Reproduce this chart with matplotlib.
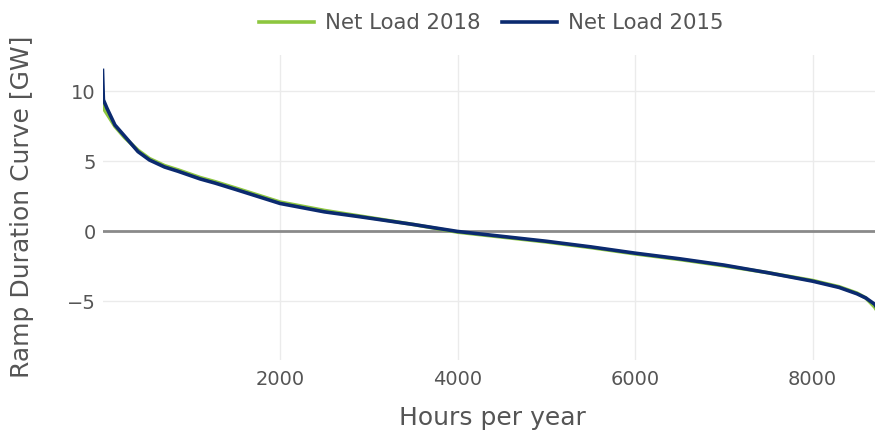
import matplotlib
matplotlib.use("Agg")
import matplotlib.pyplot as plt
from matplotlib.ticker import FixedLocator

hours = [0, 10, 50, 140, 250, 400, 530, 700, 850, 1100, 1270, 1500, 2000, 2500,
         2900, 3500, 4000, 4500, 5000, 5500, 6000, 6500, 7000, 7500, 8000, 8300,
         8500, 8600, 8700, 8760]

net_load_2015 = [11.5, 9.4, 8.8, 7.6, 6.8, 5.7, 5.1, 4.6, 4.3, 3.75, 3.45, 3.0, 2.0,
                 1.4, 1.05, 0.5, 0.0, -0.35, -0.7, -1.1, -1.55, -1.95, -2.4, -2.95,
                 -3.55, -4.0, -4.45, -4.75, -5.2, -5.8]

net_load_2018 = [9.0, 8.8, 8.4, 7.5, 6.7, 5.8, 5.2, 4.7, 4.4, 3.85, 3.55, 3.1, 2.1,
                 1.5, 1.1, 0.5, -0.05, -0.4, -0.75, -1.15, -1.6, -2.0, -2.45, -2.95,
                 -3.5, -3.95, -4.4, -4.75, -5.4, -6.0]

x_ticks = [2000, 4000, 6000, 8000]
y_ticks = [-5, 0, 5, 10]

GREEN = "#8dc63f"
NAVY = "#0b2a6f"
TXT = "#555555"

plt.rcParams["font.family"] = ["DejaVu Sans"]

fig = plt.figure(figsize=(8.75, 4.32), dpi=100)
ax = fig.add_axes([102.5 / 875, 1 - 360 / 432, (880 - 102.5) / 875, (360 - 55) / 432])

ax.axhline(0, color="#8a8a8a", lw=2, zorder=1)
l1, = ax.plot(hours, net_load_2018, color=GREEN, lw=2.6, label="Net Load 2018", zorder=2)
l2, = ax.plot(hours, net_load_2015, color=NAVY, lw=2.6, label="Net Load 2015", zorder=3)

ax.set_xlim(0, 8760)
ax.set_ylim(-9.18, 12.6)
ax.xaxis.set_major_locator(FixedLocator(x_ticks))
ax.yaxis.set_major_locator(FixedLocator(y_ticks))
ax.set_yticklabels(["\u22125", "0", "5", "10"])
ax.grid(True, color="#ebebeb", lw=1)
ax.set_axisbelow(True)
for s in ax.spines.values():
    s.set_visible(False)
ax.tick_params(axis="both", length=0, labelsize=14, labelcolor=TXT)
ax.tick_params(axis="x", pad=7)
ax.tick_params(axis="y", pad=5)

fig.text(492 / 875, 1 - 418 / 432, "Hours per year", ha="center", va="center",
         fontsize=18, color=TXT)
fig.text(22 / 875, 1 - 207 / 432, "Ramp Duration Curve [GW]", ha="center", va="center",
         rotation=90, fontsize=18, color=TXT)

fig.legend(handles=[l1, l2], loc="center", bbox_to_anchor=(491 / 875, 1 - 23 / 432),
           ncol=2, frameon=False, fontsize=15.3, labelcolor=TXT, handlelength=2.6,
           handletextpad=0.5, columnspacing=1.0)

fig.savefig("out.png", dpi=100, facecolor="white")
